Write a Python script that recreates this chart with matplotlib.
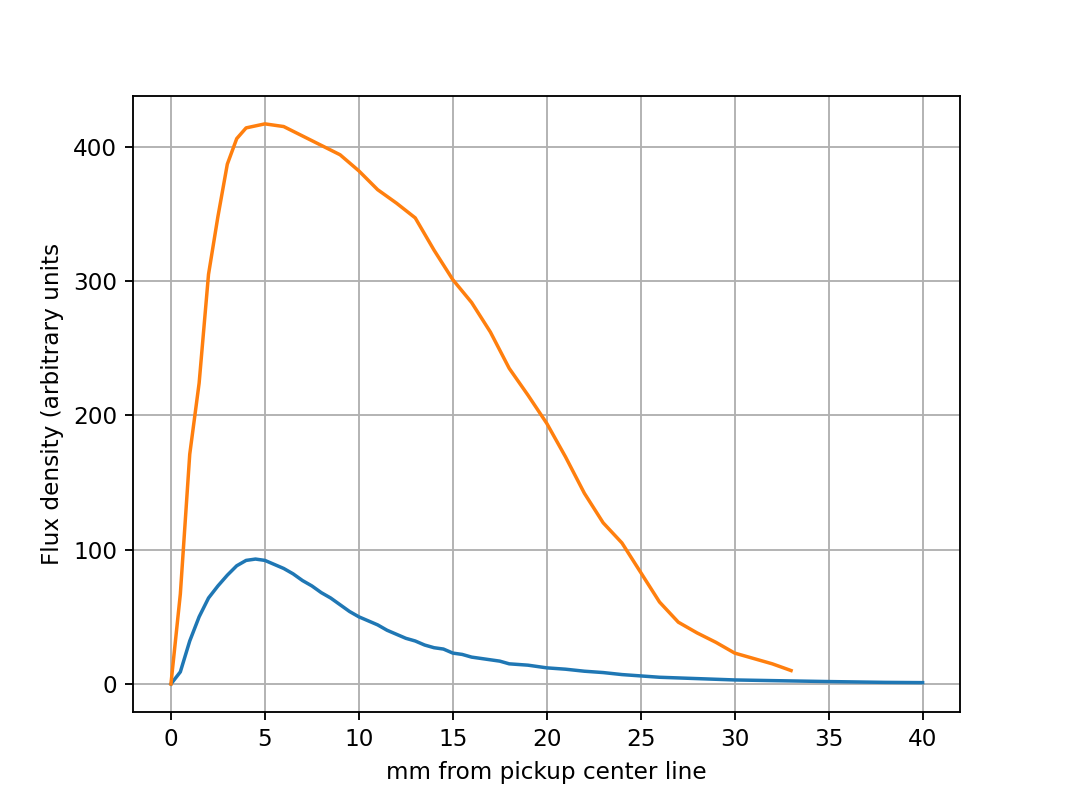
import matplotlib
matplotlib.use("Agg")
import matplotlib.pyplot as plt

# small magnet profile (blue)
x_small = [0, 0.5, 1, 1.5, 2, 2.5, 3, 3.5, 4, 4.5, 5, 5.5, 6, 6.5, 7, 7.5, 8, 8.5, 9, 9.5,
           10, 10.5, 11, 11.5, 12, 12.5, 13, 13.5, 14, 14.5, 15, 15.5, 16, 17, 17.5, 18, 19, 20,
           21, 22, 23, 24, 24.5, 25, 26, 27, 28, 29, 30, 32, 35, 38, 40]
y_small = [0, 9, 32, 50, 64, 73, 81, 88, 92, 93, 92, 89, 86, 82, 77, 73, 68, 64, 59, 54,
           50, 47, 44, 40, 37, 34, 32, 29, 27, 26, 23, 22, 20, 18, 17, 15, 14, 12,
           11, 9.5, 8.5, 7, 6.5, 6, 5, 4.5, 4, 3.5, 3, 2.5, 1.8, 1.2, 1]

# large magnet profile (orange)
x_large = [0, 0.5, 1, 1.5, 2, 2.5, 3, 3.5, 4, 5, 6, 7, 8, 9, 10, 11, 12, 13, 14, 15, 16, 17,
           18, 19, 20, 21, 22, 23, 24, 25, 26, 27, 28, 29, 30, 31, 32, 33]
y_large = [0, 67, 171, 224, 305, 348, 387, 406, 414, 417, 415, 408, 401, 394, 382, 368, 358,
           347, 323, 301, 284, 262, 235, 215, 194, 169, 142, 120, 105, 83, 61, 46, 38, 31,
           23, 19, 15, 10]

fig, ax = plt.subplots(figsize=(6.4, 4.8), dpi=166.7)
ax.plot(x_small, y_small)
ax.plot(x_large, y_large)
ax.set_xlabel("mm from pickup center line")
ax.set_ylabel("Flux density (arbitrary units")
ax.grid(True)
fig.savefig("out.png")
